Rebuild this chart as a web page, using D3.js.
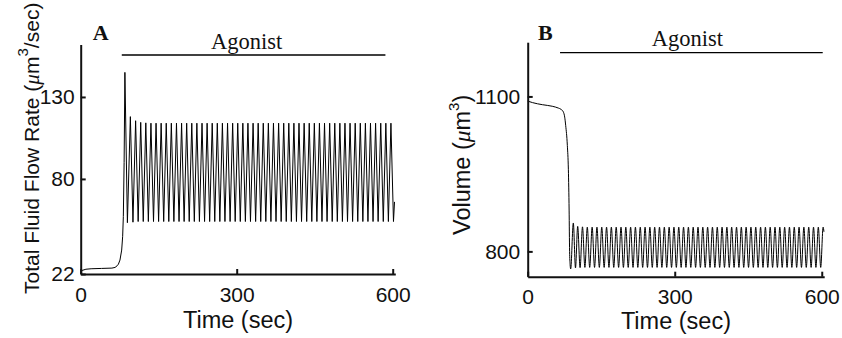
<!DOCTYPE html>
<html>
<head>
<meta charset="utf-8">
<script src="https://cdn.jsdelivr.net/npm/d3@7"></script>
<style>
  body { margin: 0; background: #fff; }
  svg { display: block; }
  .tick text { font-family: "Liberation Sans", Arial, sans-serif; font-size: 21px; fill: #111; }
  .lbl { font-family: "Liberation Sans", Arial, sans-serif; font-size: 23.5px; fill: #111; }
  .agon { font-family: "Liberation Serif", "Times New Roman", serif; font-size: 22.5px; fill: #111; }
  .panel { font-family: "Liberation Serif", "Times New Roman", serif; font-size: 22px; font-weight: bold; fill: #111; }
</style>
</head>
<body>
<svg width="842" height="338"></svg>
<script>
// ---- panel A: total fluid flow rate ----
var flowBaseTime = [0, 4, 10, 20, 40, 60, 66, 70, 72.5, 75.5, 78.8, 80.7, 82, 83.5];
var flowBaseRate = [23.3, 24.3, 24.9, 25.2, 25.4, 25.6, 26, 27, 28, 30.5, 36.6, 45, 57, 90];
var flowPeakTime = [85, 95.5, 105.6, 115.4, 125.2, 135.1, 144.9, 154.7, 164.5, 174.3, 184.2, 194.0,
  203.8, 213.6, 223.4, 233.3, 243.1, 252.9, 262.7, 272.5, 282.4, 292.2, 302.0, 311.8, 321.6, 331.5,
  341.3, 351.1, 360.9, 370.7, 380.6, 390.4, 400.2, 410.0, 419.8, 429.7, 439.5, 449.3, 459.1, 468.9,
  478.8, 488.6, 498.4, 508.2, 518.0, 527.9, 537.7, 547.5, 557.3, 567.1, 577.0, 586.8, 596.6];
var flowPeakRate = [145, 118, 115.5, 114.5, 114.2, 114, 114, 114, 114, 114, 114, 114,
  114, 114, 114, 114, 114, 114, 114, 114, 114, 114, 114, 114, 114, 114,
  114, 114, 114, 114, 114, 114, 114, 114, 114, 114, 114, 114, 114, 114,
  114, 114, 114, 114, 114, 114, 114, 114, 114, 114, 114, 114, 114];
var flowTroughTime = [89.8, 100.5, 110.5, 120.3, 130.1, 140.0, 149.8, 159.6, 169.4, 179.2, 189.1,
  198.9, 208.7, 218.5, 228.3, 238.2, 248.0, 257.8, 267.6, 277.4, 287.3, 297.1, 306.9, 316.7, 326.5,
  336.4, 346.2, 356.0, 365.8, 375.6, 385.5, 395.3, 405.1, 414.9, 424.7, 434.6, 444.4, 454.2, 464.0,
  473.8, 483.7, 493.5, 503.3, 513.1, 522.9, 532.8, 542.6, 552.4, 562.2, 572.0, 581.9, 591.7, 601.5];
var flowTroughRate = [53.3, 53.6, 54, 54, 54, 54, 54, 54, 54, 54, 54,
  54, 54, 54, 54, 54, 54, 54, 54, 54, 54, 54, 54, 54, 54,
  54, 54, 54, 54, 54, 54, 54, 54, 54, 54, 54, 54, 54, 54,
  54, 54, 54, 54, 54, 54, 54, 54, 54, 54, 54, 54, 54, 54];
var flowEndTime = [603.5];
var flowEndRate = [66];

// ---- panel B: cell volume ----
var volBaseTime = [0, 10, 30, 50, 62.5, 68, 72.7, 75.5, 77.5, 80.9, 83, 84.5, 85.5, 86.5];
var volBaseValue = [1091, 1088, 1084, 1081, 1077.5, 1075, 1070, 1060, 1044, 1005, 958, 880, 800, 775];
var volPeakTime = [93.1, 102.0, 111.8, 121.6, 131.5, 141.3, 151.1, 160.9, 170.7, 180.6, 190.4, 200.2,
  210.0, 219.8, 229.7, 239.5, 249.3, 259.1, 268.9, 278.8, 288.6, 298.4, 308.2, 318.0, 327.9, 337.7,
  347.5, 357.3, 367.1, 377.0, 386.8, 396.6, 406.4, 416.2, 426.1, 435.9, 445.7, 455.5, 465.3, 475.2,
  485.0, 494.8, 504.6, 514.4, 524.3, 534.1, 543.9, 553.7, 563.5, 573.4, 583.2, 593.0, 602.8];
var volPeakValue = [855, 848.5, 847.5, 847, 847, 847, 847, 847, 847, 847, 847, 847,
  847, 847, 847, 847, 847, 847, 847, 847, 847, 847, 847, 847, 847, 847,
  847, 847, 847, 847, 847, 847, 847, 847, 847, 847, 847, 847, 847, 847,
  847, 847, 847, 847, 847, 847, 847, 847, 847, 847, 847, 847, 847];
var volTroughTime = [87.7, 97.5, 106.9, 116.7, 126.5, 136.4, 146.2, 156.0, 165.8, 175.6, 185.5,
  195.3, 205.1, 214.9, 224.7, 234.6, 244.4, 254.2, 264.0, 273.8, 283.7, 293.5, 303.3, 313.1, 322.9,
  332.8, 342.6, 352.4, 362.2, 372.0, 381.9, 391.7, 401.5, 411.3, 421.1, 431.0, 440.8, 450.6, 460.4,
  470.2, 480.1, 489.9, 499.7, 509.5, 519.3, 529.2, 539.0, 548.8, 558.6, 568.4, 578.3, 588.1, 597.9];
var volTroughValue = [766, 768, 768.5, 769, 769, 769, 769, 769, 769, 769, 769,
  769, 769, 769, 769, 769, 769, 769, 769, 769, 769, 769, 769, 769, 769,
  769, 769, 769, 769, 769, 769, 769, 769, 769, 769, 769, 769, 769, 769,
  769, 769, 769, 769, 769, 769, 769, 769, 769, 769, 769, 769, 769, 769];
var volEndTime = [604.5];
var volEndValue = [838];

// ticks and annotations
var timeTicks = [0, 300, 600];
var flowTicks = [22, 80, 130];
var volTicks = [800, 1100];
var agonistA = [79, 586];
var agonistB = [66, 602];

function zipSeries(parts) {
  var pts = [];
  parts.forEach(function(p) {
    p[0].forEach(function(t, i) { pts.push({t: t, v: p[1][i]}); });
  });
  return pts.sort(function(a, b) { return a.t - b.t; });
}

var flowData = zipSeries([[flowBaseTime, flowBaseRate], [flowPeakTime, flowPeakRate],
  [flowTroughTime, flowTroughRate], [flowEndTime, flowEndRate]]);
var volData = zipSeries([[volBaseTime, volBaseValue], [volPeakTime, volPeakValue],
  [volTroughTime, volTroughValue], [volEndTime, volEndValue]]);

var svg = d3.select("svg");

function drawPanel(opt) {
  var x = d3.scaleLinear().domain([0, 605]).range(opt.xr);
  var y = d3.scaleLinear().domain(opt.yd).range(opt.yr);
  var g = svg.append("g");

  g.append("path")
    .datum(opt.data)
    .attr("fill", "none")
    .attr("stroke", "#000")
    .attr("stroke-width", 1)
    .attr("d", d3.line().curve(opt.curve)
      .x(function(d) { return x(d.t); })
      .y(function(d) { return y(d.v); }));

  var xa = g.append("g")
    .attr("transform", "translate(0," + opt.yr[0] + ")")
    .call(d3.axisBottom(x).tickValues(timeTicks).tickSizeInner(-5).tickSizeOuter(0).tickFormat(d3.format("d")));
  xa.selectAll(".tick text").attr("y", opt.xlabOff).attr("dy", null);

  var ya = g.append("g")
    .attr("transform", "translate(" + opt.xr[0] + ",0)")
    .call(d3.axisLeft(y).tickValues(opt.ticks).tickSizeInner(-5).tickSizeOuter(0).tickPadding(opt.ypad).tickFormat(d3.format("d")));

  [xa, ya].forEach(function(a) {
    a.select(".domain").attr("stroke", "#111").attr("stroke-width", 2);
    a.selectAll(".tick line").attr("stroke", "#111").attr("stroke-width", 2);
  });

  // agonist bar
  g.append("line")
    .attr("x1", x(opt.agonist[0])).attr("x2", x(opt.agonist[1]))
    .attr("y1", opt.agY).attr("y2", opt.agY)
    .attr("stroke", "#000").attr("stroke-width", 1.3);
  g.append("text").attr("class", "agon")
    .attr("x", opt.agTextX).attr("y", opt.agY - 6.5)
    .attr("text-anchor", "middle")
    .text("Agonist");

  g.append("text").attr("class", "panel")
    .attr("x", opt.panelX).attr("y", 40)
    .text(opt.panel);

  g.append("text").attr("class", "lbl")
    .attr("x", (opt.xr[0] + opt.xr[1]) / 2).attr("y", opt.xTitleY)
    .attr("text-anchor", "middle")
    .text("Time (sec)");

  var yl = g.append("text").attr("class", "lbl")
    .attr("transform", "translate(" + opt.yTitleX + "," + opt.yTitleY + ") rotate(-90)")
    .attr("text-anchor", "start")
    .style("font-size", opt.ySize + "px");
  yl.append("tspan").text(opt.ylab[0]);
  yl.append("tspan").attr("font-family", "Liberation Serif, serif").attr("font-style", "italic").text("\u03bc");
  yl.append("tspan").text("m");
  yl.append("tspan").attr("font-size", "15px").attr("dy", "-11").text("3");
  yl.append("tspan").attr("dy", "11").text(opt.ylab[1]);

  // keep the rotated title inside the top edge
  var len = yl.node().getBBox().width;
  if (opt.yTitleY - len < 3) {
    yl.style("font-size", (opt.ySize * (opt.yTitleY - 3) / len) + "px");
  }
}

drawPanel({
  data: flowData, curve: d3.curveLinear,
  xr: [80.7, 395.3], yd: [22, 162], yr: [274, 44.5], ticks: flowTicks,
  ypad: 6, xlabOff: 28, agonist: agonistA, agY: 55, agTextX: 246.7,
  panel: "A", panelX: 92.7, xTitleY: 328,
  ylab: ["Total Fluid Flow Rate (", "/sec)"], yTitleX: 39, yTitleY: 294, ySize: 22.6
});

drawPanel({
  data: volData, curve: d3.curveMonotoneX,
  xr: [527.7, 824.2], yd: [751, 1205], yr: [276.7, 42.2], ticks: volTicks,
  ypad: 7.5, xlabOff: 27, agonist: agonistB, agY: 52.7, agTextX: 687.5,
  panel: "B", panelX: 538, xTitleY: 329.3,
  ylab: ["Volume (", ")"], yTitleX: 470, yTitleY: 235, ySize: 23.5
});
</script>
</body>
</html>
